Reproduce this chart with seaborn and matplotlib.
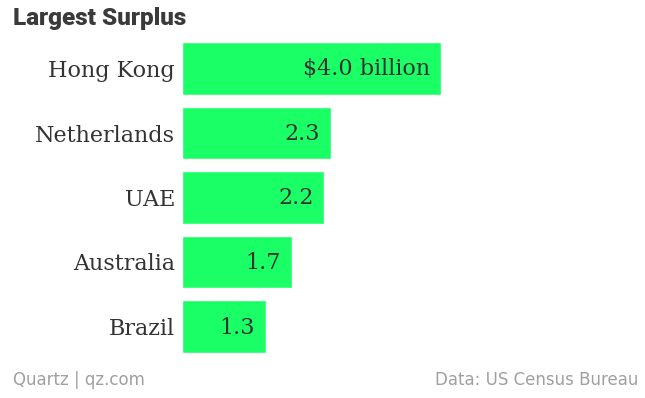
import matplotlib
matplotlib.use('Agg')
import matplotlib.pyplot as plt
import seaborn as sns
import pandas as pd

# chart data
countries = ["Hong Kong", "Netherlands", "UAE", "Australia", "Brazil"]
surplus = [4.0, 2.3, 2.2, 1.7, 1.3]
value_labels = ["$4.0 billion", "2.3", "2.2", "1.7", "1.3"]

GREEN = "#1aff66"
DARK = "#333333"
GREY = "#9a9a9a"
SERIF = ["DejaVu Serif"]

sns.set_style("white")

df = pd.DataFrame({"country": countries, "surplus": surplus})

fig = plt.figure(figsize=(6.45, 3.98), dpi=100)
ax = fig.add_axes([182 / 645, (398 - 358.75) / 398, 463 / 645, (358.75 - 36.25) / 398])

sns.barplot(data=df, x="surplus", y="country", color=GREEN, saturation=1,
            width=0.82, ax=ax)

ax.set_xlim(0, 463 / 64.75)
ax.set_ylim(4.5, -0.5)
ax.set_xlabel("")
ax.set_ylabel("")
ax.set_xticks([])
ax.tick_params(axis="y", length=0, pad=5)
for lbl in ax.get_yticklabels():
    lbl.set_fontfamily(SERIF)
    lbl.set_fontsize(16)
    lbl.set_color(DARK)
sns.despine(ax=ax, left=True, bottom=True)

# value labels, right aligned inside each bar
for i, (v, txt) in enumerate(zip(surplus, value_labels)):
    ax.annotate(txt, xy=(v, i), xytext=(-11, -1), textcoords="offset pixels",
                ha="right", va="center", fontsize=16, color=DARK,
                family=SERIF)

fig.text(13 / 645, 1 - 18 / 398, "Largest Surplus", ha="left", va="center",
         fontsize=17.5, fontweight="heavy", color="#3a3a3a", family=["Roboto", "DejaVu Sans"])
fig.text(13 / 645, 1 - 380 / 398, "Quartz | qz.com", ha="left", va="center",
         fontsize=12, color="#a0a0a0", family=["Liberation Sans Narrow", "DejaVu Sans"])
fig.text(638 / 645, 1 - 380 / 398, "Data: US Census Bureau", ha="right", va="center",
         fontsize=12, color="#a0a0a0", family=["Liberation Sans Narrow", "DejaVu Sans"])

fig.savefig("out.png", dpi=100)
